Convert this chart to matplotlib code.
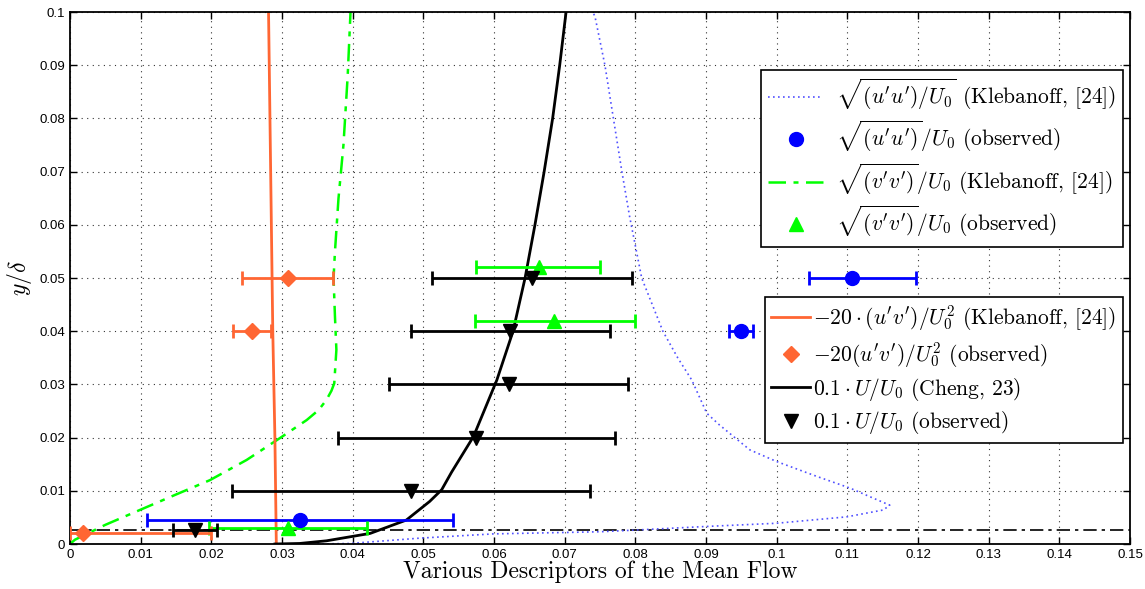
import numpy as np
import matplotlib
matplotlib.use("Agg")
import matplotlib.pyplot as plt

plt.rcParams['mathtext.fontset'] = 'cm'
plt.rcParams['font.family'] = ['Liberation Sans', 'DejaVu Sans']
plt.rcParams['axes.unicode_minus'] = False

# ---- Klebanoff / Cheng profiles ----
u_prof_x = [0.0350, 0.0396, 0.0495, 0.0599, 0.0750, 0.0797, 0.0901, 0.1000, 0.1099, 0.1151,
            0.1160, 0.1130, 0.1104, 0.1057, 0.1000, 0.0962, 0.0939, 0.0918, 0.0901, 0.0880,
            0.0860, 0.0839, 0.0809, 0.0804, 0.0792, 0.0781, 0.0769, 0.0757, 0.0743, 0.0740]
u_prof_y = [0.0, 0.0001, 0.0011, 0.0019, 0.0023, 0.0026, 0.0033, 0.0039, 0.0051, 0.0064,
            0.0073, 0.0090, 0.0105, 0.0127, 0.0155, 0.0177, 0.0202, 0.0225, 0.0246, 0.0308,
            0.0350, 0.0400, 0.0500, 0.0534, 0.0615, 0.0700, 0.0800, 0.0900, 0.0991, 0.1000]

v_prof_x = [0.0, 0.0007, 0.0050, 0.0099, 0.0150, 0.0198, 0.0250, 0.0297, 0.0335, 0.0352,
            0.0363, 0.0370, 0.0374, 0.0377, 0.0375, 0.0373, 0.0375, 0.0380, 0.0387, 0.0393,
            0.0397]
v_prof_y = [0.0, 0.0008, 0.0036, 0.0064, 0.0093, 0.0120, 0.0158, 0.0199, 0.0233, 0.0252,
            0.0271, 0.0288, 0.0302, 0.0365, 0.0427, 0.0500, 0.0550, 0.0650, 0.0750, 0.0880,
            0.1000]

uv_prof_x = [0.0292, 0.0290, 0.0287, 0.0285, 0.0283, 0.0281]
uv_prof_y = [0.0, 0.02, 0.04, 0.06, 0.08, 0.10]

U_prof_x = [0.0290, 0.0325, 0.0363, 0.0425, 0.0476, 0.0509, 0.0526, 0.0540, 0.0571, 0.0604,
            0.0627, 0.0637, 0.0644, 0.0658, 0.0671, 0.0683, 0.0693, 0.0702]
U_prof_y = [0.0, 0.0001, 0.0006, 0.0020, 0.0045, 0.0080, 0.0102, 0.0135, 0.0202, 0.0308,
            0.0400, 0.0459, 0.0500, 0.0600, 0.0700, 0.0800, 0.0900, 0.1000]

# ---- observed values with horizontal error bars ----
uu_obs_x = [0.0325, 0.0950, 0.1107]
uu_obs_y = [0.0046, 0.0401, 0.0500]
uu_obs_lo = [0.0109, 0.0933, 0.1046]
uu_obs_hi = [0.0542, 0.0967, 0.1197]

vv_obs_x = [0.0309, 0.0685, 0.0664]
vv_obs_y = [0.0031, 0.0420, 0.0520]
vv_obs_lo = [0.0197, 0.0573, 0.0575]
vv_obs_hi = [0.0420, 0.0800, 0.0750]

uv_obs_x = [0.0018, 0.0258, 0.0308]
uv_obs_y = [0.0021, 0.0400, 0.0500]
uv_obs_lo = [0.0, 0.0231, 0.0243]
uv_obs_hi = [0.0200, 0.0284, 0.0372]

U_obs_x = [0.0177, 0.0483, 0.0574, 0.0621, 0.0623, 0.0654]
U_obs_y = [0.0026, 0.0100, 0.0200, 0.0300, 0.0400, 0.0500]
U_obs_lo = [0.0146, 0.0229, 0.0379, 0.0451, 0.0482, 0.0513]
U_obs_hi = [0.0208, 0.0736, 0.0771, 0.0790, 0.0764, 0.0795]

ref_height = 0.0026

c_orange = '#FF6633'
c_green = '#00FF00'
c_blue = '#0000FF'

fig = plt.figure(figsize=(11.45, 5.89), dpi=100)
ax = fig.add_axes([0.0611, 0.0764, 0.9258, 0.9032])

ax.axhline(ref_height, color='k', ls=(0, (8, 3, 2, 3)), lw=1.2, zorder=2)

l_uu, = ax.plot(u_prof_x, u_prof_y, ls=(0, (1, 2)), color='#5050FF', lw=1.2)
l_vv, = ax.plot(v_prof_x, v_prof_y, ls=(0, (7, 3, 2, 3)), color=c_green, lw=1.8)
l_uv, = ax.plot(uv_prof_x, uv_prof_y, ls='-', color=c_orange, lw=2)
l_U, = ax.plot(U_prof_x, U_prof_y, ls='-', color='k', lw=2)

def obs(xs, ys, lo, hi, color, marker, ms):
    xs = np.array(xs)
    ax.errorbar(xs, ys, xerr=[xs - np.array(lo), np.array(hi) - xs], fmt='none',
                ecolor=color, elinewidth=2, capsize=5, capthick=2, zorder=4)
    h, = ax.plot(xs, ys, ls='none', marker=marker, color=color, ms=ms, zorder=5)
    return h

m_uu = obs(uu_obs_x, uu_obs_y, uu_obs_lo, uu_obs_hi, c_blue, 'o', 10)
m_vv = obs(vv_obs_x, vv_obs_y, vv_obs_lo, vv_obs_hi, c_green, '^', 10)
m_uv = obs(uv_obs_x, uv_obs_y, uv_obs_lo, uv_obs_hi, c_orange, 'D', 8)
m_U = obs(U_obs_x, U_obs_y, U_obs_lo, U_obs_hi, 'k', 'v', 10)

ax.set_xlim(0, 0.15)
ax.set_ylim(0, 0.1)
ax.set_xticks(np.arange(0, 0.1501, 0.01))
ax.set_yticks(np.arange(0, 0.1001, 0.01))
ax.set_xticklabels(['0'] + ['%g' % v for v in np.arange(0.01, 0.1501, 0.01).round(2)])
ax.set_yticklabels(['0'] + ['%g' % v for v in np.arange(0.01, 0.1001, 0.01).round(2)])
ax.tick_params(direction='in', top=True, right=True, length=5, width=1, labelsize=9.5)
ax.grid(True, ls=(0, (1, 4)), color='k', lw=0.8, alpha=0.8)
for s in ax.spines.values():
    s.set_linewidth(1.3)

ax.set_xlabel('Various Descriptors of the Mean Flow', family='cmr10', fontsize=17, labelpad=0)
ax.set_ylabel(r'$y/\delta$', fontsize=17, labelpad=4)

leg_font = {'family': 'cmr10', 'size': 15.5}
leg1 = ax.legend([l_uu, m_uu, l_vv, m_vv],
                 [r"$\sqrt{(u'u')/U_0}$ (Klebanoff, [24])",
                  r"$\sqrt{(u'u')}/U_0$ (observed)",
                  r"$\sqrt{(v'v')}/U_0$ (Klebanoff, [24])",
                  r"$\sqrt{(v'v')}/U_0$ (observed)"],
                 loc='upper right', bbox_to_anchor=(0.9934, 0.891), prop=leg_font,
                 fancybox=False, edgecolor='k', framealpha=1, labelspacing=0.3,
                 handlelength=2.6, handletextpad=0.6, borderaxespad=0, borderpad=0.3)
leg1.get_frame().set_linewidth(1.2)
ax.add_artist(leg1)

leg2 = ax.legend([l_uv, m_uv, l_U, m_U],
                 [r"$-20\cdot(u'v')/U_0^2$ (Klebanoff, [24])",
                  r"$-20(u'v')/U_0^2$ (observed)",
                  r"$0.1\cdot U/U_0$ (Cheng, 23)",
                  r"$0.1\cdot U/U_0$ (observed)"],
                 loc='upper right', bbox_to_anchor=(0.9934, 0.464), prop=leg_font,
                 fancybox=False, edgecolor='k', framealpha=1, labelspacing=0.3,
                 handlelength=1.8, handletextpad=0.15, borderaxespad=0, borderpad=0.3)
leg2.get_frame().set_linewidth(1.2)

fig.savefig('out.png', dpi=100)
